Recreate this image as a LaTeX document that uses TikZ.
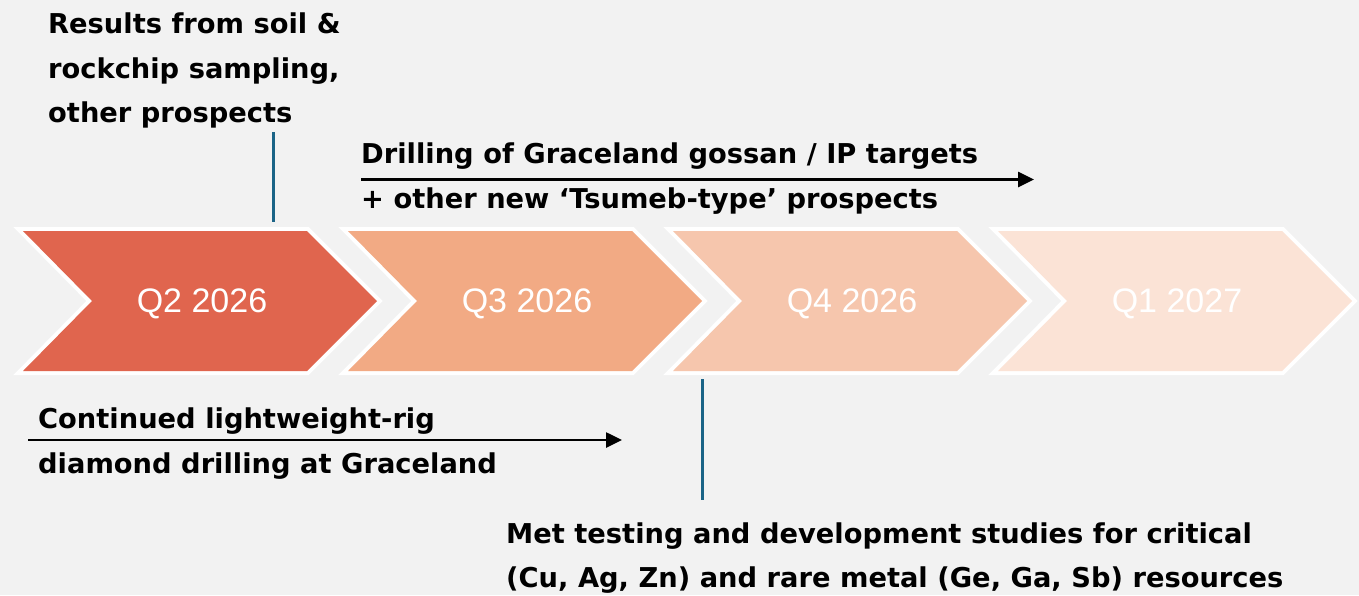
\documentclass[tikz,border=0pt]{standalone}
\usepackage{fontspec}
\setmainfont{Liberation Sans}
\newfontfamily\notefont{DejaVu Sans}
\usetikzlibrary{arrows.meta}

\definecolor{bg}{HTML}{F2F2F2}
\definecolor{qa}{HTML}{E0654E}
\definecolor{qb}{HTML}{F2AA84}
\definecolor{qc}{HTML}{F6C6AD}
\definecolor{qd}{HTML}{FBE3D6}
\definecolor{pinblue}{HTML}{1B6487}

\tikzset{
  note/.style={anchor=base west, inner sep=0pt, text=black,
    font={\notefont\bfseries\fontsize{27.3}{33}\selectfont}},
  qlabel/.style={anchor=base, inner sep=0pt, text=white,
    font={\fontsize{34}{40}\selectfont}},
  timeline/.style={-{Triangle[length=16pt,width=15pt]}, line width=2.6pt, draw=black},
  pinline/.style={line width=3pt, draw=pinblue},
  rim/.style={draw=white, line width=8pt, line join=miter},
}

\begin{document}
\begin{tikzpicture}[x=1pt, y=-1pt]
  \useasboundingbox (0,0) rectangle (1359,595);
  \fill[bg] (0,0) rectangle (1359,595);

  % quarter chevrons
  \foreach \L/\col/\txt/\nm in {23/qa/Q2 2026/q2, 348/qb/Q3 2026/q3, 673/qc/Q4 2026/q4, 998/qd/Q1 2027/q1} {
    \draw[rim] (\L,231) -- ++(284,0) -- ++(70,70) -- ++(-70,70) -- ++(-284,0) -- ++(69,-70) -- cycle;
    \fill[\col] (\L,231) -- ++(284,0) -- ++(70,70) -- ++(-70,70) -- ++(-284,0) -- ++(69,-70) -- cycle;
    \node[qlabel] (\nm) at (\L+179,312) {\txt};
  }

  % sampling results
  \node[note] (res1) at (48,33.3) {Results from soil \&};
  \node[note] (res2) at (48,78) {rockchip sampling,};
  \node[note] (res3) at (48,122.5) {other prospects};
  \coordinate (resTop) at (273,132);
  \coordinate (resBot) at (273,222);
  \draw[pinline] (resTop) -- (resBot);

  % Graceland gossan drilling
  \node[note] (dr1) at (361,163.5) {Drilling of Graceland gossan / IP targets};
  \node[note] (dr2) at (361,208.5) {+ other new ‘Tsumeb-type’ prospects};
  \coordinate (drA) at (361,179.5);
  \coordinate (drB) at (1034,179.5);
  \draw[timeline] (drA) -- (drB);

  % lightweight-rig drilling
  \node[note] (lw1) at (38,428.5) {Continued lightweight-rig};
  \node[note] (lw2) at (38,473) {diamond drilling at Graceland};
  \coordinate (lwA) at (28,440);
  \coordinate (lwB) at (622,440);
  \draw[timeline] (lwA) -- (lwB);

  % met testing
  \coordinate (metTop) at (702,379);
  \coordinate (metBot) at (702,500);
  \draw[pinline] (metTop) -- (metBot);
  \node[note] (met1) at (506,543.3) {Met testing and development studies for critical};
  \node[note] (met2) at (506,587.5) {(Cu, Ag, Zn) and rare metal (Ge, Ga, Sb) resources};
\end{tikzpicture}
\end{document}
